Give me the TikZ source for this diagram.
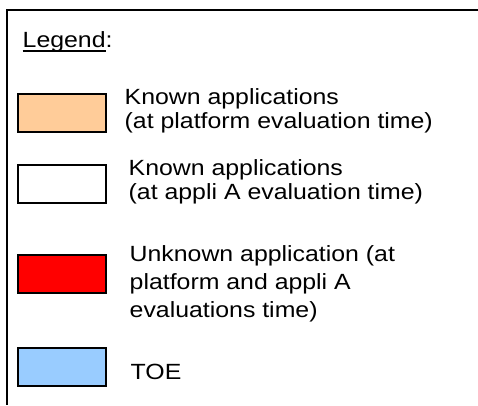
\documentclass[tikz,border=0pt]{standalone}
\usepackage{fontspec}
\setmainfont{Liberation Sans}[FakeStretch=1.13]
\usepackage{tikz}

\definecolor{knownorange}{HTML}{FFCC99}
\definecolor{unknownred}{HTML}{FF0000}
\definecolor{toeblue}{HTML}{99CCFF}
\newcommand{\legendul}[1]{\setbox0\hbox{#1}\rlap{\rule[-4.5pt]{\wd0}{1.4pt}}\box0}

\begin{document}
\begin{tikzpicture}[x=1pt,y=-1pt,line width=1.4pt,
	swatch/.style={draw=black,line width=1.2pt},
	label/.style={anchor=base west,inner sep=0pt,align=left,font=\fontsize{22}{24}\selectfont}]
	\useasboundingbox (0,0) rectangle (478,405);
	%FRAME
	\draw (478,10)--(7,10)--(7,405);
	\node[label] (legend) at (22,47) {\legendul{Legend}:};

	%SWATCHES
	\draw[swatch,fill=knownorange] (18,94) rectangle (106,132);
	\draw[swatch,fill=white] (18,165) rectangle (106,203);
	\draw[swatch,fill=unknownred] (18,255) rectangle (106,293);
	\draw[swatch,fill=toeblue] (18,348) rectangle (106,386);

	%TEXTS (anchored on the last line)
	\node[label] (known1) at (124,128) {Known applications \\ (at platform evaluation time)};
	\node[label] (known2) at (128,199) {Known applications \\ (at appli A evaluation time)};
	\node[label,font=\fontsize{22}{28}\selectfont] (unknown) at (129,317) {Unknown application (at \\ platform and appli A \\ evaluations time)};
	\node[label] (toe) at (130,379) {TOE};
\end{tikzpicture}
\end{document}
